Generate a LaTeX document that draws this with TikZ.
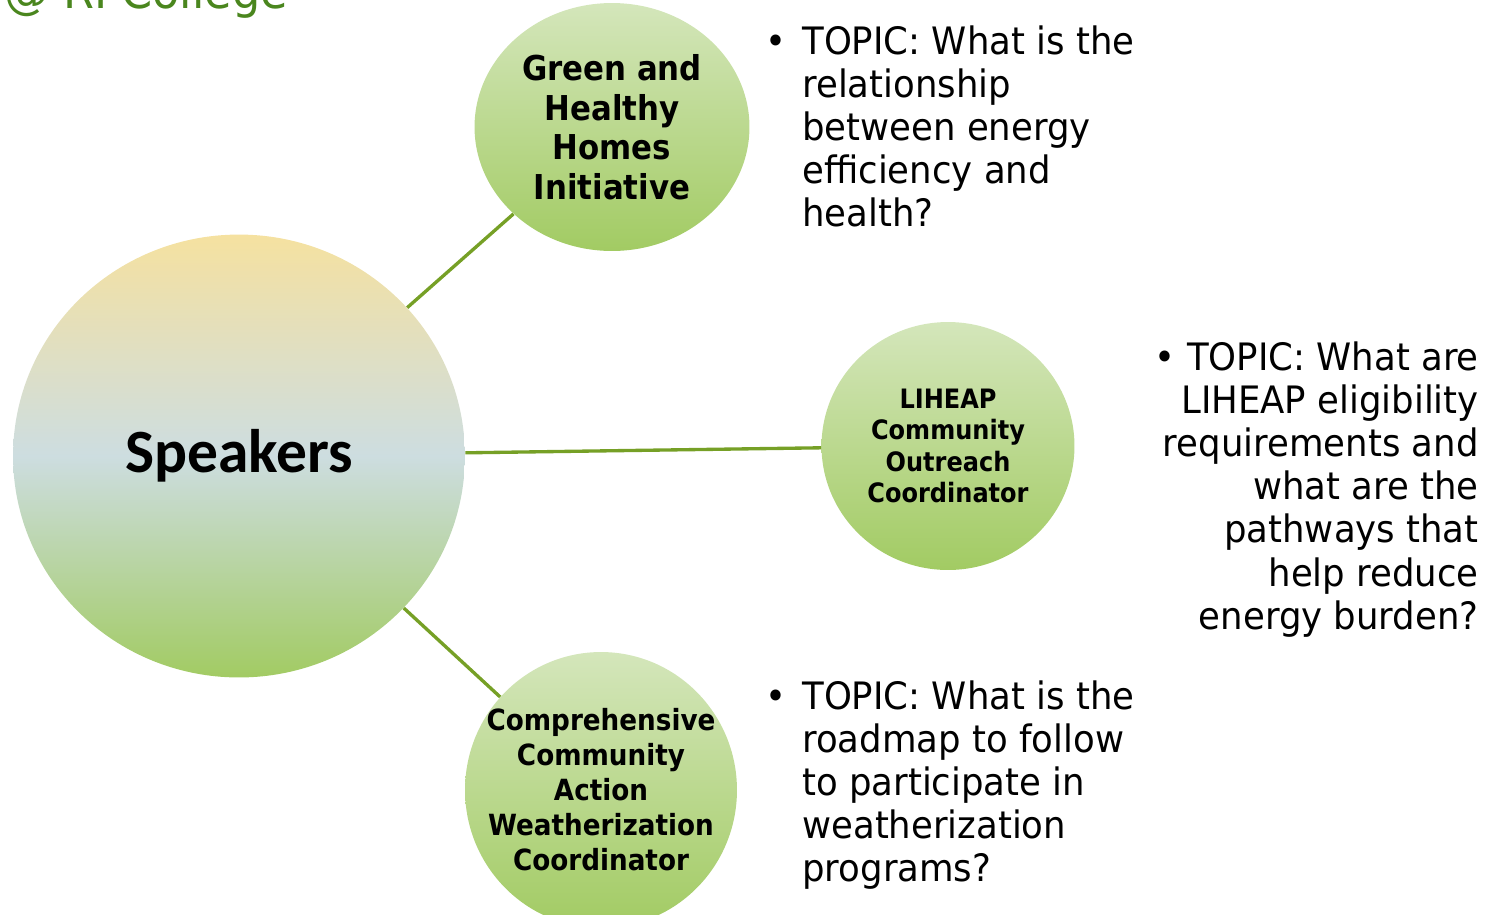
\documentclass[tikz,border=0pt]{standalone}
\usepackage{fontspec}
\setmainfont{DejaVu Sans}[FakeStretch=0.94]
\newfontfamily\bubblefont{DejaVu Sans}[FakeStretch=0.9]
\newfontfamily\speakerfont{Carlito}
\usetikzlibrary{shapes.geometric}
\usetikzlibrary{math}

\definecolor{linegreen}{RGB}{118,160,38}
\definecolor{logogreen}{RGB}{74,134,30}
\definecolor{topyellow}{RGB}{245,225,160}
\definecolor{midblue}{RGB}{205,221,224}
\definecolor{bottomgreen}{RGB}{162,203,99}
\definecolor{lightgreen}{RGB}{212,230,187}

\begin{document}
\begin{tikzpicture}[x=0.02cm,y=-0.02cm,
  bubble/.style={ellipse, inner sep=0pt, align=center, shading=axis,
    top color=lightgreen, bottom color=bottomgreen},
  link/.style={draw=linegreen, line width=1.9pt},
  topic/.style={align=left, inner sep=0pt,
    font=\fontsize{21.5}{24.6}\selectfont}]

  \tikzmath{
    \bulletgap = 9;   % gap after the bullet (pt)
    \firstline = 25;  % top of the first topic line
  }

  % page frame
  \useasboundingbox (0,0) rectangle (1487,914);

  % logo text, cut at the top edge
  \node[anchor=base west, inner sep=0pt, text=logogreen,
    font=\fontsize{27}{32}\selectfont] (logo) at (4,8) {@ RI College};

  % the hub
  \node[bubble, minimum width=9.04cm, minimum height=8.86cm,
    top color=topyellow, bottom color=bottomgreen, middle color=midblue,
    font=\speakerfont\bfseries\fontsize{35}{40}\selectfont] (spk) at (239,456) {Speakers};

  % the three speakers
  \node[bubble, minimum width=5.5cm, minimum height=4.96cm,
    font=\bubblefont\bfseries\fontsize{19.5}{22.5}\selectfont] (ghh) at (612,127)
    {Green and\\Healthy\\Homes\\Initiative};
  \node[bubble, minimum width=5.06cm, minimum height=4.96cm,
    font=\bubblefont\bfseries\fontsize{15.2}{18}\selectfont] (liheap) at (948,446)
    {LIHEAP\\Community\\Outreach\\Coordinator};
  \node[bubble, inner xsep=-12pt, minimum width=5.44cm, minimum height=5.52cm,
    font=\bubblefont\bfseries\fontsize{16.6}{19.9}\selectfont] (ccap) at (601,790)
    {Comprehensive\\Community\\Action\\Weatherization\\Coordinator};

  % links
  \draw[link] (spk) -- (ghh);
  \draw[link] (spk) -- (liheap);
  \draw[link] (spk) -- (ccap);

  % topics
  \node[topic, anchor=north west] (tghh) at (802,\firstline)
    {\llap{\textbullet\hspace{\bulletgap pt}}TOPIC: What is the\\relationship\\between energy\\efficiency and\\health?};
  \node[topic, align=right, anchor=north east] (tliheap) at (1479,341)
    {\textbullet\hspace{6.5pt}TOPIC: What are\\LIHEAP eligibility\\requirements and\\what are the\\pathways that\\help reduce\\energy burden?};
  \node[topic, anchor=north west] (tccap) at (802,680)
    {\llap{\textbullet\hspace{\bulletgap pt}}TOPIC: What is the\\roadmap to follow\\to participate in\\weatherization\\programs?};

\end{tikzpicture}
\end{document}
